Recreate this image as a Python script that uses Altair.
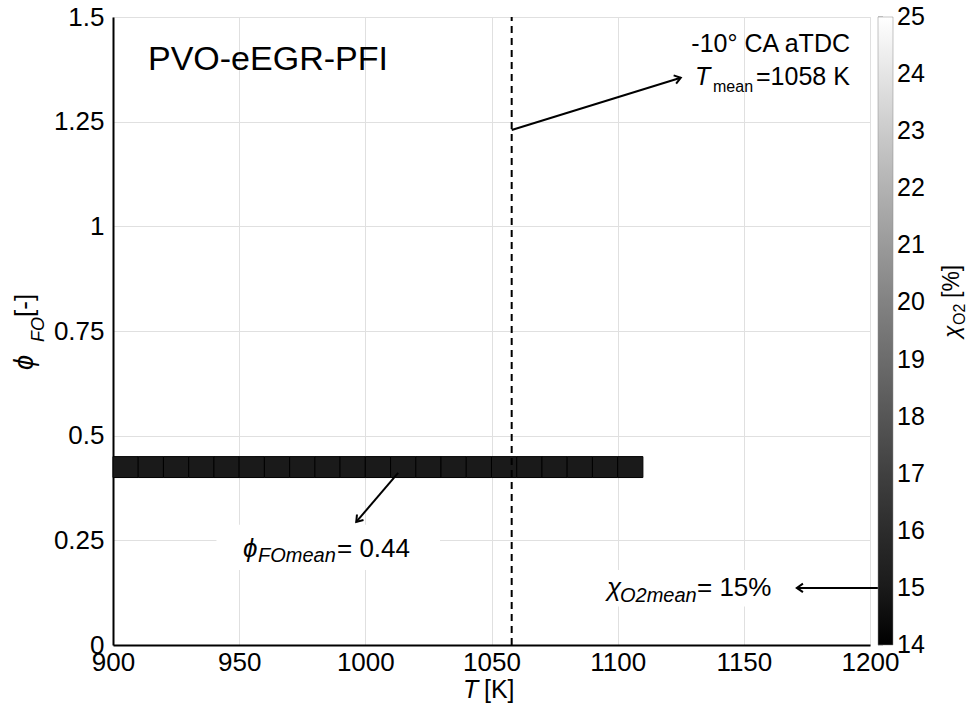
import altair as alt
import pandas as pd

# ---------------- data ----------------
T_bin_start = [900, 910, 920, 930, 940, 950, 960, 970, 980, 990, 1000,
               1010, 1020, 1030, 1040, 1050, 1060, 1070, 1080, 1090, 1100]
T_bin_end = [910, 920, 930, 940, 950, 960, 970, 980, 990, 1000, 1010,
             1020, 1030, 1040, 1050, 1060, 1070, 1080, 1090, 1100, 1110]
phi_low = [0.40] * 21
phi_high = [0.45] * 21
chi_o2 = [15.0, 15.0, 15.0, 15.0, 15.0, 15.0, 15.0, 15.0, 15.0, 15.0, 15.0,
          15.0, 15.0, 15.0, 15.0, 15.0, 15.0, 15.0, 15.0, 15.0, 15.0]

T_mean = 1058
x_ticks = [900, 950, 1000, 1050, 1100, 1150, 1200]
y_ticks = [0, 0.25, 0.5, 0.75, 1, 1.25, 1.5]
cbar_ticks = [14, 15, 16, 17, 18, 19, 20, 21, 22, 23, 24, 25]
CHI_MIN, CHI_MAX = 14, 25

# annotation arrows (data coordinates)
arr_x1 = [1058, 1013, 1204]
arr_y1 = [1.23, 0.411, 0.1364]
arr_x2 = [1125, 996.4, 1171]
arr_y2 = [1.355, 0.294, 0.1364]
arr_ang = [343, 130.5, 180]

# white label boxes (data coordinates)
box_x1 = [941, 1090]
box_x2 = [1029.6, 1170]
box_y1 = [0.179, 0.092]
box_y2 = [0.287, 0.179]

FONT = "Liberation Sans"
W, H = 757, 628
OX, OY = 113, 17  # plot origin in page pixels

xs = alt.Scale(domain=[900, 1200], nice=False, zero=False)
ys = alt.Scale(domain=[0, 1.5], nice=False, zero=False)

bins = pd.DataFrame({"t0": T_bin_start, "t1": T_bin_end,
                     "p0": phi_low, "p1": phi_high, "chi": chi_o2})

base_axis_x = alt.Axis(values=x_ticks, title=None, grid=True, ticks=False,
                       labelFontSize=26, labelFont=FONT, labelColor="black",
                       labelPadding=4, domainColor="black", domainWidth=2,
                       gridColor="#e0e0e0", gridWidth=1, format="d",
                       labelFlush=False)
base_axis_y = alt.Axis(values=y_ticks, title=None, grid=True, ticks=False,
                       labelFontSize=26, labelFont=FONT, labelColor="black",
                       labelPadding=9, domainColor="black", domainWidth=2,
                       gridColor="#e0e0e0", gridWidth=1,
                       labelExpr="'' + datum.value", labelFlush=False)

rects = alt.Chart(bins).mark_rect(stroke="black", strokeWidth=1).encode(
    x=alt.X("t0:Q", scale=xs, axis=base_axis_x),
    x2="t1:Q",
    y=alt.Y("p0:Q", scale=ys, axis=base_axis_y),
    y2="p1:Q",
    color=alt.Color("chi:Q",
                    scale=alt.Scale(domain=[CHI_MIN, CHI_MAX], range=["#000000", "#ffffff"]),
                    legend=alt.Legend(orient="none", legendX=765, legendY=0,
                                      direction="vertical", gradientLength=H,
                                      gradientThickness=15, title=None,
                                      values=[CHI_MIN, CHI_MAX], labelExpr="''",
                                      labelFontSize=1, labelFont=FONT,
                                      gradientStrokeColor="#888888",
                                      gradientStrokeWidth=0.5, padding=0)),
)

# colorbar labels + faint ticks, mapped onto the plot height
cb = alt.Chart(pd.DataFrame({"v": cbar_ticks})).transform_calculate(
    pos=f"(datum.v - {CHI_MIN}) / ({CHI_MAX} - {CHI_MIN}) * 1.5")
cb_labels = cb.mark_text(font=FONT, fontSize=25, align="left", baseline="middle",
                         color="black").encode(
    x=alt.value(897 - OX), y=alt.Y("pos:Q", scale=ys), text="v:Q")
cb_ticks = cb.mark_rule(color="#9a9a9a", strokeWidth=1).encode(
    x=alt.value(878 - OX), x2=alt.value(883 - OX), y=alt.Y("pos:Q", scale=ys))

vline = alt.Chart(pd.DataFrame({"t": [T_mean]})).mark_rule(
    color="black", strokeWidth=2, strokeDash=[7, 5]).encode(
    x=alt.X("t:Q", scale=xs), y=alt.datum(0), y2=alt.datum(1.5))

boxes = alt.Chart(pd.DataFrame({"a": box_x1, "b": box_x2, "c": box_y1, "d": box_y2})).mark_rect(
    color="white").encode(
    x=alt.X("a:Q", scale=xs), x2="b:Q", y=alt.Y("c:Q", scale=ys), y2="d:Q")

arrows_df = pd.DataFrame({"x1": arr_x1, "y1": arr_y1, "x2": arr_x2, "y2": arr_y2, "ang": arr_ang})
arrow_lines = alt.Chart(arrows_df).mark_rule(color="black", strokeWidth=2).encode(
    x=alt.X("x1:Q", scale=xs), x2="x2:Q", y=alt.Y("y1:Q", scale=ys), y2="y2:Q")
arrow_heads = alt.Chart(arrows_df).mark_point(
    shape="M -1 -0.7 L 0 0 L -1 0.7", filled=False, stroke="black",
    strokeWidth=2, size=150, opacity=1).encode(
    x=alt.X("x2:Q", scale=xs), y=alt.Y("y2:Q", scale=ys),
    angle=alt.Angle("ang:Q", scale=None))


def txt(s, x, y, size, italic=False, align="left", angle=0, baseline="alphabetic"):
    kw = dict(text=s, fontSize=size, font=FONT, color="black", align=align,
              baseline=baseline)
    if italic:
        kw["fontStyle"] = "italic"
    if angle:
        kw["angle"] = angle
    return alt.Chart(pd.DataFrame({"s": [s]})).mark_text(**kw).encode(
        x=alt.value(x - OX), y=alt.value(y - OY))


texts = [
    txt("PVO-eEGR-PFI", 148, 70, 34),
    txt("-10° CA aTDC", 850, 52, 25, align="right"),
    txt("T", 695, 85, 25, italic=True),
    txt("mean", 713, 92, 16),
    txt("=1058 K", 756, 85, 25),
    txt("ϕ", 243, 557, 26, italic=True),
    txt("FOmean", 258, 562, 20, italic=True),
    txt("= 0.44", 337, 557, 26),
    txt("χ", 607, 596, 26, italic=True),
    txt("O2mean", 620, 602, 20, italic=True),
    txt("= 15%", 697, 596, 26),
    # x axis title
    txt("T", 463, 698, 25, italic=True),
    txt("[K]", 484, 698, 25),
    # y axis title (rotated)
    txt("ϕ", 33, 370, 27, italic=True, angle=270),
    txt("FO", 44, 342, 18, italic=True, angle=270),
    txt("[-]", 33, 317, 26, angle=270),
    # colorbar title (rotated)
    txt("χ", 959, 338, 23, italic=True, angle=270),
    txt("O2", 965, 325, 16, angle=270),
    txt("[%]", 959, 298, 23, angle=270),
]

chart = alt.layer(rects, cb_ticks, cb_labels, vline, boxes, arrow_lines, arrow_heads,
                  *texts).properties(
    width=W, height=H,
    autosize=alt.AutoSizeParams(type="none"),
    padding={"left": OX, "top": OY, "right": 974 - OX - W, "bottom": 706 - OY - H},
).configure_view(stroke="black", strokeWidth=1.5).configure(background="white")

chart.save("out.html", embed_options={"renderer": "svg", "actions": False})
